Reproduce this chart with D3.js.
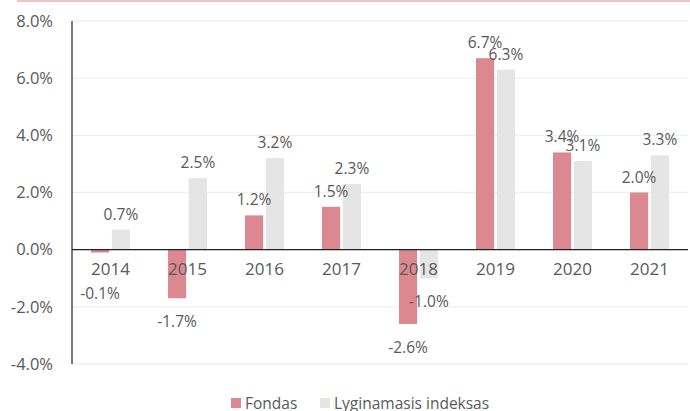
<!DOCTYPE html>
<html>
<head>
<meta charset="utf-8">
<script src="https://cdn.jsdelivr.net/npm/d3@7"></script>
<style>
  body { margin: 0; background: #fff; }
  text { font-family: "Open Sans", "Liberation Sans", sans-serif; fill: #595959; }
</style>
</head>
<body>
<div id="container"></div>
<script>
/* DATA */
const years = ["2014", "2015", "2016", "2017", "2018", "2019", "2020", "2021"];
const fondas = [-0.1, -1.7, 1.2, 1.5, -2.6, 6.7, 3.4, 2.0];
const indeksas = [0.7, 2.5, 3.2, 2.3, -1.0, 6.3, 3.1, 3.3];
const seriesNames = ["Fondas", "Lyginamasis indeksas"];
const yTicks = [-4, -2, 0, 2, 4, 6, 8];

/* CONSTANTS */
const width = 690, height = 411,
  margin = { top: 21, bottom: 47, left: 72, right: 2 };
const colors = ["#db8891", "#e5e5e5"];

const svg = d3.select("#container").append("svg")
  .attr("width", width).attr("height", height);

// top decorative line
svg.append("rect")
  .attr("x", 17).attr("y", 0).attr("width", width - 17).attr("height", 2)
  .attr("fill", "#f0c2c6");

// SCALES
const x = d3.scaleBand().domain(years)
  .range([margin.left, width - margin.right]).paddingInner(0).paddingOuter(0);
const xSub = d3.scaleBand().domain([0, 1])
  .range([19, x.bandwidth() - 19]).paddingInner(0.13);
const y = d3.scaleLinear().domain([-4, 8])
  .range([height - margin.bottom, margin.top]);

// GRIDLINES
svg.append("g").selectAll("line").data(yTicks).join("line")
  .attr("x1", margin.left).attr("x2", width - margin.right)
  .attr("y1", d => y(d)).attr("y2", d => y(d))
  .attr("stroke", "#efefef").attr("stroke-width", 1.3);

// Y TICK LABELS
svg.append("g").selectAll("text").data(yTicks).join("text")
  .attr("x", 53).attr("y", d => y(d)).attr("dy", "0.35em")
  .attr("text-anchor", "end").attr("font-size", 16.5)
  .text(d => d.toFixed(1) + "%");

// BARS
const rows = years.map((yr, i) => ({ yr, vals: [fondas[i], indeksas[i]] }));
const groups = svg.append("g").selectAll("g").data(rows).join("g")
  .attr("transform", d => `translate(${x(d.yr)},0)`);

groups.selectAll("rect").data(d => d.vals.map((v, k) => ({ v, k }))).join("rect")
  .attr("x", d => xSub(d.k)).attr("width", xSub.bandwidth())
  .attr("y", d => y(Math.max(0, d.v)))
  .attr("height", d => Math.abs(y(d.v) - y(0)))
  .attr("fill", d => colors[d.k]);

// AXES LINES
svg.append("line")
  .attr("x1", margin.left).attr("x2", width - margin.right)
  .attr("y1", y(0)).attr("y2", y(0)).attr("stroke", "#222").attr("stroke-width", 1.2);
svg.append("line")
  .attr("x1", margin.left).attr("x2", margin.left)
  .attr("y1", y(8)).attr("y2", y(-4)).attr("stroke", "#222").attr("stroke-width", 1.2);

// CATEGORY LABELS
svg.append("g").selectAll("text").data(years).join("text")
  .attr("x", d => x(d) + x.bandwidth() / 2).attr("y", y(0) + 25)
  .attr("text-anchor", "middle").attr("font-size", 17)
  .text(d => d);

// DATA LABELS
groups.selectAll("text").data(d => d.vals.map((v, k) => ({ v, k }))).join("text")
  .attr("x", d => xSub(d.k) + xSub.bandwidth() / 2)
  .attr("y", d => d.v >= 0 ? y(d.v) - 10 : Math.max(y(d.v) + 29, y(0) + 49))
  .attr("text-anchor", "middle").attr("font-size", 15.5)
  .text(d => d.v.toFixed(1) + "%");

// LEGEND
const legend = svg.append("g").selectAll("g").data(seriesNames).join("g")
  .attr("transform", (d, i) => `translate(${i === 0 ? 231 : 320},398)`);
legend.append("rect").attr("width", 10).attr("height", 10)
  .attr("fill", (d, i) => colors[i]);
legend.append("text").attr("x", 14).attr("y", 5).attr("dy", "0.38em")
  .attr("font-size", 15.5).text(d => d);
</script>
</body>
</html>
